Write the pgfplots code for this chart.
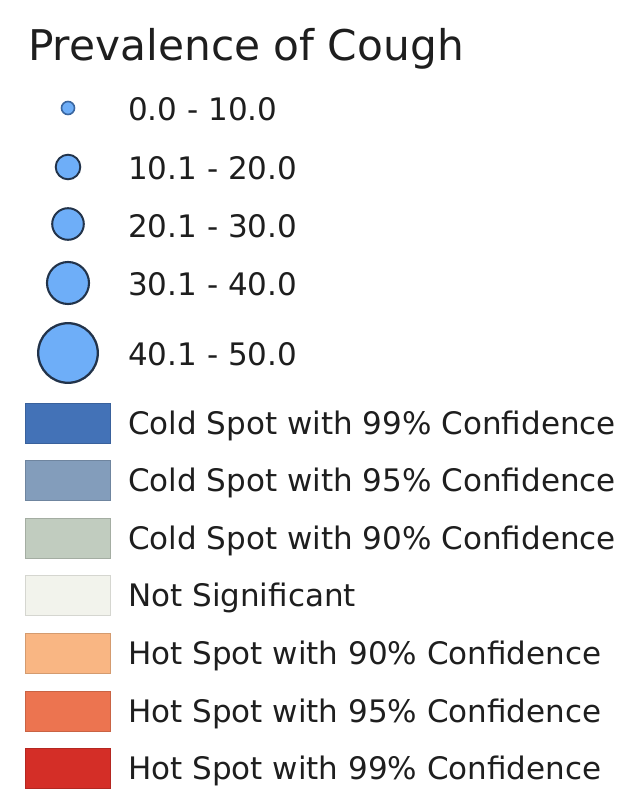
\documentclass[border=0pt]{standalone}
\usepackage{pgfplots}
\pgfplotsset{compat=1.18}
\usepackage{fontspec}
\setmainfont{DejaVu Sans}
\definecolor{tc}{HTML}{1E1E1E}
\definecolor{cfill}{HTML}{6EAEF8}
\definecolor{cline}{HTML}{22334A}
\definecolor{dotline}{HTML}{3A66A0}
\definecolor{cold99}{HTML}{4372B7}
\definecolor{cold95}{HTML}{839DBB}
\definecolor{cold90}{HTML}{C1CCBF}
\definecolor{notsig}{HTML}{F2F3EC}
\definecolor{hot90}{HTML}{F9B683}
\definecolor{hot95}{HTML}{EC7450}
\definecolor{hot99}{HTML}{D42E27}
\begin{document}
\begin{tikzpicture}
\begin{axis}[
  width=620pt, height=792pt, scale only axis,
  xmin=0, xmax=620, ymin=0, ymax=792, y dir=reverse,
  hide axis, clip=false,
]
% proportional symbols
\addplot[only marks, mark=*, mark size=6.5pt, mark options={fill=cfill, draw=dotline, line width=1.6pt}] coordinates {(68,108)};
\addplot[only marks, mark=*, mark size=12.3pt, mark options={fill=cfill, draw=cline, line width=1.9pt}] coordinates {(68,167)};
\addplot[only marks, mark=*, mark size=15.8pt, mark options={fill=cfill, draw=cline, line width=2pt}] coordinates {(68,224)};
\addplot[only marks, mark=*, mark size=21pt, mark options={fill=cfill, draw=cline, line width=2.1pt}] coordinates {(68,283)};
\addplot[only marks, mark=*, mark size=29.8pt, mark options={fill=cfill, draw=cline, line width=2.3pt}] coordinates {(68,353)};
% class patches
\addplot[fill=cold99, draw=cold99!85!black, line width=0.6pt] coordinates {(25,403) (110,403) (110,443) (25,443) (25,403)};
\addplot[fill=cold95, draw=cold95!85!black, line width=0.6pt] coordinates {(25,460) (110,460) (110,500) (25,500) (25,460)};
\addplot[fill=cold90, draw=cold90!85!black, line width=0.6pt] coordinates {(25,518) (110,518) (110,558) (25,558) (25,518)};
\addplot[fill=notsig, draw=notsig!88!black, line width=0.6pt] coordinates {(25,575) (110,575) (110,615) (25,615) (25,575)};
\addplot[fill=hot90, draw=hot90!85!black, line width=0.6pt] coordinates {(25,633) (110,633) (110,673) (25,673) (25,633)};
\addplot[fill=hot95, draw=hot95!85!black, line width=0.6pt] coordinates {(25,691) (110,691) (110,731) (25,731) (25,691)};
\addplot[fill=hot99, draw=hot99!85!black, line width=0.6pt] coordinates {(25,748) (110,748) (110,788) (25,788) (25,748)};
\path (axis cs:0,0) rectangle (axis cs:620,792);
\node[anchor=base west, inner sep=0pt, text=tc, font=\fontsize{42.3}{50}\selectfont] at (axis cs:28,60) {Prevalence of Cough};
\begin{scope}[every node/.style={anchor=base west, inner sep=0pt, text=tc, font=\fontsize{31}{37}\selectfont}]
\node at (axis cs:128,120) {0.0 - 10.0};
\node at (axis cs:128,179) {10.1 - 20.0};
\node at (axis cs:128,237) {20.1 - 30.0};
\node at (axis cs:128,295) {30.1 - 40.0};
\node at (axis cs:128,365) {40.1 - 50.0};
\node at (axis cs:128,434.5) {Cold Spot with 99\% Confidence};
\node at (axis cs:128,491.5) {Cold Spot with 95\% Confidence};
\node at (axis cs:128,549.5) {Cold Spot with 90\% Confidence};
\node at (axis cs:128,606.5) {Not Significant};
\node at (axis cs:128,664.5) {Hot Spot with 90\% Confidence};
\node at (axis cs:128,722.5) {Hot Spot with 95\% Confidence};
\node at (axis cs:128,779.5) {Hot Spot with 99\% Confidence};
\end{scope}
\end{axis}
\end{tikzpicture}
\end{document}
